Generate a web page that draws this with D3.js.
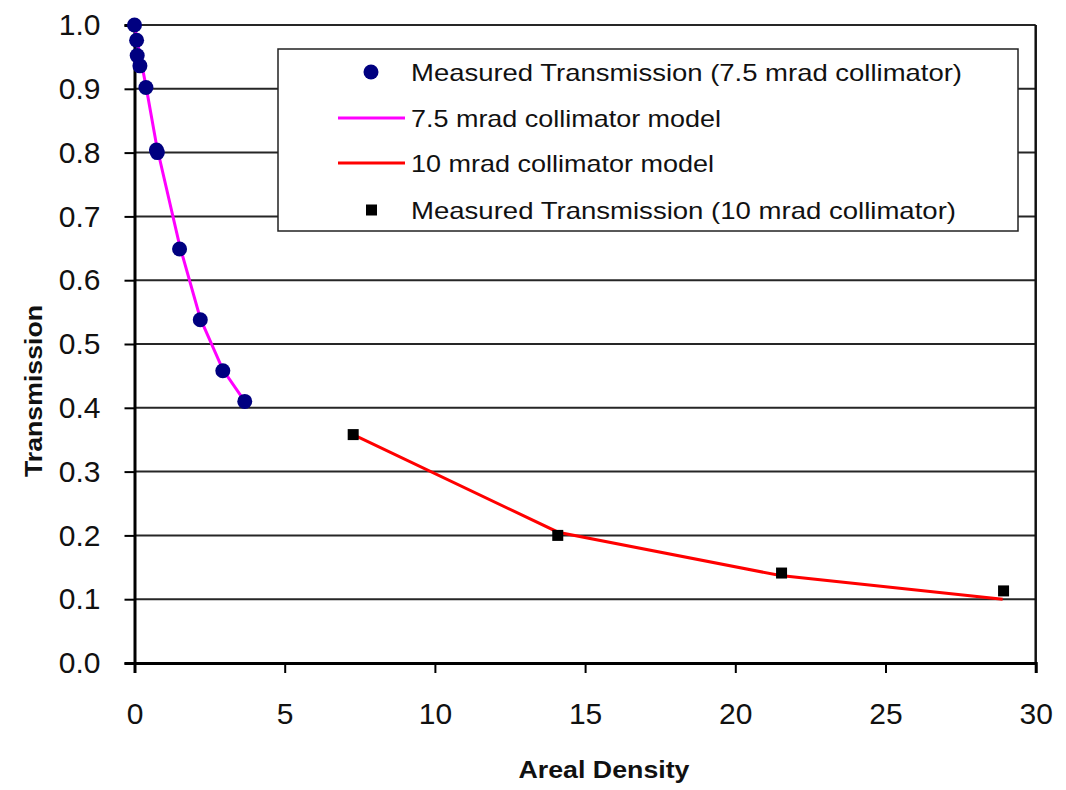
<!DOCTYPE html>
<html>
<head>
<meta charset="utf-8">
<script src="https://cdn.jsdelivr.net/npm/d3@7"></script>
<style>
  body { margin: 0; background: #fff; }
  svg { display: block; font-family: "Liberation Sans", Arial, sans-serif; }
</style>
</head>
<body>
<svg id="chart" width="1066" height="790"></svg>
<script>
// measured, 7.5 mrad collimator
const meas75X = [0, 0.07, 0.09, 0.18, 0.38, 0.73, 0.76, 1.5, 2.19, 2.94, 3.67];
const meas75Y = [1.0, 0.976, 0.952, 0.936, 0.902, 0.804, 0.8, 0.649, 0.538, 0.458, 0.41];

// 7.5 mrad model curve
const model75X = [0, 0.09, 0.2, 0.38, 0.74, 1.5, 2.19, 2.94, 3.67];
const model75Y = [1.0, 0.975, 0.948, 0.905, 0.81, 0.655, 0.54, 0.46, 0.41];

// 10 mrad model curve
const model10X = [7.28, 14.1, 21.5, 28.9];
const model10Y = [0.358, 0.205, 0.137, 0.1];

// measured, 10 mrad collimator
const meas10X = [7.28, 14.09, 21.54, 28.93];
const meas10Y = [0.358, 0.2, 0.141, 0.113];

const xTicks = [0, 5, 10, 15, 20, 25, 30];
const yTicks = [0, 0.1, 0.2, 0.3, 0.4, 0.5, 0.6, 0.7, 0.8, 0.9, 1.0];

const legendLabels = [
  "Measured Transmission (7.5 mrad collimator)",
  "7.5 mrad collimator model",
  "10 mrad collimator model",
  "Measured Transmission (10 mrad collimator)",
];

const settings = {
  left: 134.5,
  right: 1035.7,
  top: 25,
  bottom: 663,
  font: 30,
};

const svg = d3.select("#chart");

const x = d3.scaleLinear().domain([0, 30]).range([settings.left, settings.right]);
const y = d3.scaleLinear().domain([0, 1]).range([settings.bottom, settings.top]);

const zip = (xs, ys) => xs.map((v, i) => ({ x: v, y: ys[i] }));

// gridlines
svg.append("g")
  .selectAll("line")
  .data(yTicks.filter((d) => d > 0))
  .join("line")
  .attr("x1", settings.left)
  .attr("x2", settings.right)
  .attr("y1", (d) => y(d))
  .attr("y2", (d) => y(d))
  .attr("stroke", "#262626")
  .attr("stroke-width", 2);

// right border
svg.append("line")
  .attr("x1", settings.right)
  .attr("x2", settings.right)
  .attr("y1", settings.top)
  .attr("y2", settings.bottom)
  .attr("stroke", "#111")
  .attr("stroke-width", 2.5);

// axes
const yAxis = svg.append("g")
  .attr("transform", `translate(${settings.left},0)`)
  .call(d3.axisLeft(y).tickValues(yTicks).tickFormat(d3.format(".1f")).tickSize(10).tickPadding(24));

const xAxis = svg.append("g")
  .attr("transform", `translate(0,${settings.bottom})`)
  .call(d3.axisBottom(x).tickValues(xTicks).tickFormat(d3.format("d")).tickSize(10).tickPadding(30));

[xAxis, yAxis].forEach((axis) => {
  axis.select(".domain").attr("stroke", "#000").attr("stroke-width", 3);
  axis.selectAll(".tick line").attr("stroke", "#000").attr("stroke-width", 2);
  axis.selectAll(".tick text")
    .attr("fill", "#111")
    .attr("font-size", settings.font)
    .attr("font-family", "'Liberation Sans', Arial, sans-serif");
});

// axis titles
svg.append("text")
  .attr("x", 604)
  .attr("y", 778)
  .attr("text-anchor", "middle")
  .attr("font-size", 24)
  .attr("font-weight", "bold")
  .attr("fill", "#111")
  .attr("textLength", 171)
  .attr("lengthAdjust", "spacingAndGlyphs")
  .text("Areal Density");

svg.append("text")
  .attr("transform", "translate(42,391) rotate(-90)")
  .attr("text-anchor", "middle")
  .attr("font-size", 24)
  .attr("font-weight", "bold")
  .attr("fill", "#111")
  .attr("textLength", 172)
  .attr("lengthAdjust", "spacingAndGlyphs")
  .text("Transmission");

// model lines
const line = d3.line().x((d) => x(d.x)).y((d) => y(d.y));

svg.append("path")
  .datum(zip(model75X, model75Y))
  .attr("d", line)
  .attr("fill", "none")
  .attr("stroke", "#ff00ff")
  .attr("stroke-width", 3);

svg.append("path")
  .datum(zip(model10X, model10Y))
  .attr("d", line)
  .attr("fill", "none")
  .attr("stroke", "#ff0000")
  .attr("stroke-width", 3);

// measured points
svg.append("g")
  .selectAll("circle")
  .data(zip(meas75X, meas75Y))
  .join("circle")
  .attr("cx", (d) => x(d.x))
  .attr("cy", (d) => y(d.y))
  .attr("r", 7.5)
  .attr("fill", "#000080");

svg.append("g")
  .selectAll("rect")
  .data(zip(meas10X, meas10Y))
  .join("rect")
  .attr("x", (d) => x(d.x) - 5.5)
  .attr("y", (d) => y(d.y) - 5.5)
  .attr("width", 11)
  .attr("height", 11)
  .attr("fill", "#000");

// legend
const legend = svg.append("g");
legend.append("rect")
  .attr("x", 278)
  .attr("y", 49)
  .attr("width", 740)
  .attr("height", 182)
  .attr("fill", "#fff")
  .attr("stroke", "#222")
  .attr("stroke-width", 1.5);

const rowY = [72, 118, 163, 210];
const textLengths = [551, 310, 303, 545];

legend.append("circle").attr("cx", 371).attr("cy", rowY[0]).attr("r", 7.5).attr("fill", "#000080");
legend.append("line").attr("x1", 338).attr("x2", 405).attr("y1", rowY[1]).attr("y2", rowY[1])
  .attr("stroke", "#ff00ff").attr("stroke-width", 3);
legend.append("line").attr("x1", 338).attr("x2", 405).attr("y1", rowY[2]).attr("y2", rowY[2])
  .attr("stroke", "#ff0000").attr("stroke-width", 3);
legend.append("rect").attr("x", 366).attr("y", rowY[3] - 5.5).attr("width", 11).attr("height", 11).attr("fill", "#000");

legend.selectAll("text.label")
  .data(legendLabels)
  .join("text")
  .attr("class", "label")
  .attr("x", 411)
  .attr("y", (d, i) => rowY[i] + 8.5)
  .attr("font-size", 24)
  .attr("fill", "#111")
  .attr("textLength", (d, i) => textLengths[i])
  .attr("lengthAdjust", "spacingAndGlyphs")
  .text((d) => d);
</script>
</body>
</html>
